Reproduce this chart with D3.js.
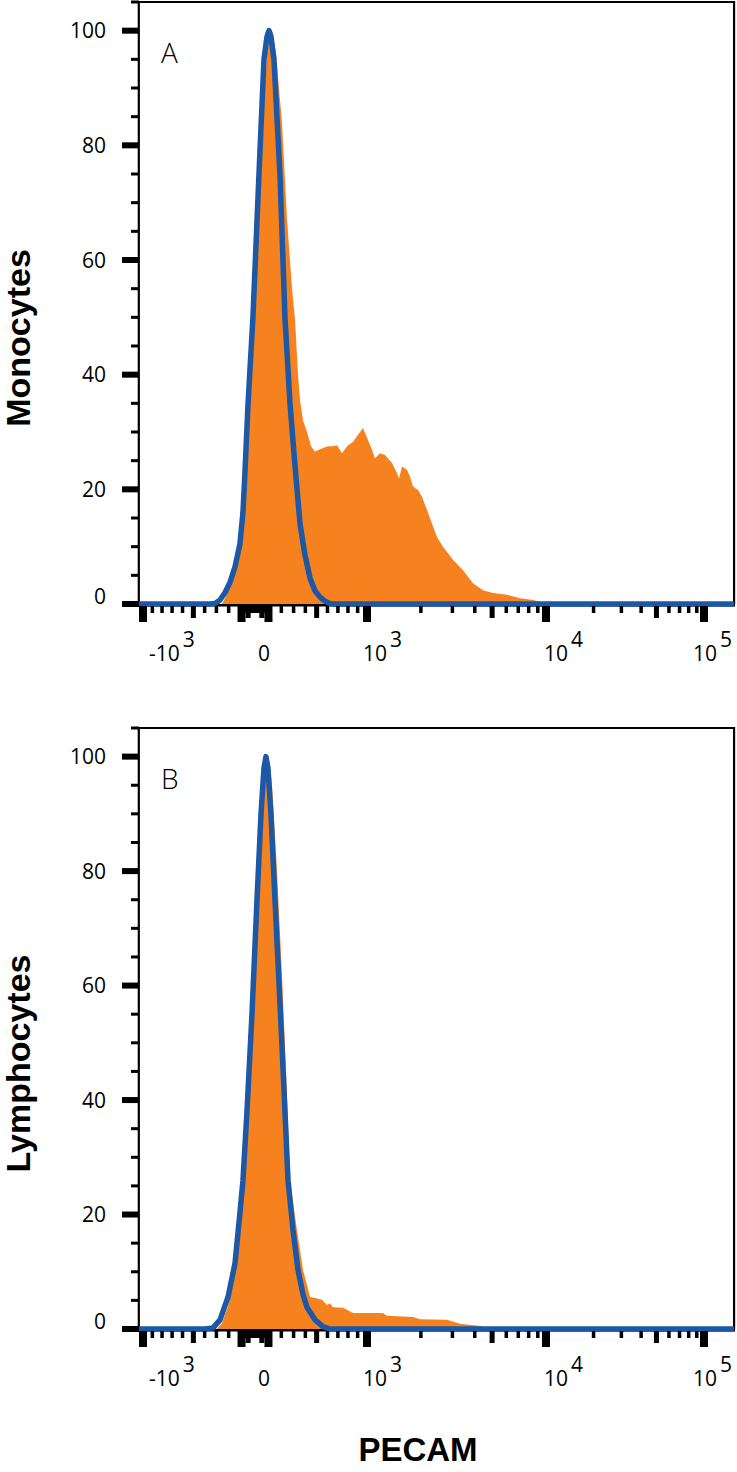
<!DOCTYPE html>
<html><head><meta charset="utf-8">
<script src="https://cdn.jsdelivr.net/npm/d3@7"></script>
<style>body{margin:0;background:#fff}svg{display:block}</style>
</head><body>
<svg id="chart" width="737" height="1472"></svg>
<script>
// ---------------- data ----------------
const panelLetters = ["A", "B"];
const yTitles = ["Monocytes", "Lymphocytes"];
const xTitle = "PECAM";
const yTickValues = [0, 20, 40, 60, 80, 100];
const xLabelValues = [-1000, 0, 1000, 10000, 100000];
const xLabelBases = ["-10", "0", "10", "10", "10"];
const xLabelSups = ["3", "", "3", "4", "5"];

// Monocytes – PECAM stained (orange, filled)
const monoStainedX = [-1090,-254,-229,-189,-150,-112,-74,-37,0,37,66,89,112,127,158,205,246,287,312,337,354,380,414,450,485,558,605,653,691,740,791,852,904,957,1066,1108,1182,1261,1379,1471,1510,1569,1673,1739,1807,1927,2029,2164,2338,2461,2658,3023,3438,3910,4447,5058,6056,7156,8461,9257,9872,155000];
const monoStainedY = [0,0,1,3,5.5,9,20,38,55,72,88,96,99.5,100,96,84,67,55,49.6,40,35.6,32,30,27.5,26.6,27.2,27.5,27.5,27.7,26.3,27.5,28.3,29.5,30.7,26.9,25.4,26.3,26.0,24.6,22.8,21.9,24.0,23.4,22.2,20.5,19.9,18.7,16.4,13.5,11.7,10.0,7.7,5.9,3.6,2.4,1.9,1.6,1.0,0.7,0.4,0,0];
// Monocytes – isotype control (blue outline)
const monoControlX = [-1090,-354,-312,-270,-229,-189,-150,-112,-89,-74,-51,-15,29,66,89,104,119,142,189,229,270,312,354,397,441,485,531,577,624,672,155000];
const monoControlY = [0,0,0.1,0.7,2.0,3.8,6.5,10.5,16,23,35,50,75,95,99,100,99,95,75,50,35,24,14,8.5,4.5,2.3,1.2,0.5,0.1,0,0];

// Lymphocytes – PECAM stained (orange, filled)
const lymphoStainedX = [-1090,-295,-254,-205,-150,-112,-74,-37,0,37,66,89,112,127,166,205,238,270,328,380,441,485,549,596,624,653,750,852,1000,1228,1293,1807,1978,2799,3308,4447,4682,155000];
const lymphoStainedY = [0,0,1,4,9.5,17,30,47,66,83,96,100,98,95,80,62,45,26,17.3,10.3,5.6,5.4,5.1,4.2,4.5,3.8,3.7,2.8,2.8,2.8,2.3,2.1,1.7,1.6,0.9,0.5,0,0];
// Lymphocytes – isotype control (blue outline)
const lymphoControlX = [-1090,-397,-328,-270,-205,-150,-112,-89,-59,-22,14.5,44,66,81,96,119,150,189,221,254,295,337,380,414,485,558,624,155000];
const lymphoControlY = [0,0,0.2,1.6,5.6,11.5,20.3,26,38,55,75,90,98,100,98,90,75,57,42,26,17.3,10.3,6,3.8,1.6,0.4,0,0];

// ---------------- layout ----------------
const svg = d3.select("#chart");
const ORANGE = "#f5821f", BLUE = "#1c58a6";
const FONT = "'Open Sans', 'Liberation Sans', sans-serif";
const xMin = -1090, xMax = 155000;

// biexponential-like display transform (linear-ish near zero, log decades beyond 10^3)
const C = 2000;
function T(v) {
  const a = Math.abs(v);
  if (a <= 1000) return Math.sign(v) * Math.log1p(a / C) / Math.log1p(1000 / C);
  return Math.sign(v) * (1 + Math.log10(a / 1000));
}
const xLin = d3.scaleLinear().domain([-1, 0, 1, 2, 3]).range([143, 255, 367, 546, 704]);
const X = v => xLin(T(v));

// tick sets
const majorTicks = [-1000, -100, 100, 1000, 10000, 100000];
const mediumTicks = [-500, -50, 50, 500, 5000, 50000];
const minorTicks = [];
[10, 100, 1000, 10000].forEach(d => {
  for (let m = 2; m <= 9; m++) if (m !== 5) {
    minorTicks.push(m * d);
    if (d <= 100) minorTicks.push(-m * d);
  }
});
for (let m = 1; m <= 9; m++) if (m !== 5) { minorTicks.push(m * 10); minorTicks.push(-m * 10); }

const panelDefs = [
  {y105: 2, y0: 604, sx: monoStainedX, sy: monoStainedY, cx: monoControlX, cy: monoControlY},
  {y105: 728, y0: 1329, sx: lymphoStainedX, sy: lymphoStainedY, cx: lymphoControlX, cy: lymphoControlY}
];

panelDefs.forEach((p, i) => {
  const y = d3.scaleLinear().domain([0, 105]).range([p.y0, p.y105]);
  const g = svg.append("g");
  const left = X(xMin), right = X(xMax);

  // stained histogram
  const stained = p.sx.map((v, k) => [v, p.sy[k]]);
  g.append("path").datum(stained)
    .attr("fill", ORANGE)
    .attr("d", d3.area().x(d => X(d[0])).y0(y(0)).y1(d => y(d[1])));

  // frame
  g.append("path")
    .attr("d", `M${left},${y(0)}V${p.y105}H${right}V${y(0)}`)
    .attr("fill", "none").attr("stroke", "#000").attr("stroke-width", 2.2);
  g.append("rect").attr("x", left - 1).attr("y", y(0)).attr("width", right - left + 2).attr("height", 2.5).attr("fill", "#000");

  // control histogram
  const control = p.cx.map((v, k) => [v, p.cy[k]]);
  g.append("path").datum(control)
    .attr("fill", "none").attr("stroke", BLUE).attr("stroke-width", 5.5)
    .attr("stroke-linejoin", "round")
    .attr("d", d3.line().x(d => X(d[0])).y(d => y(d[1])));

  // y ticks
  const yt = g.append("g");
  for (let v = 0; v <= 105; v += 5) {
    const major = v % 20 === 0;
    yt.append("rect")
      .attr("x", major ? 122 : 131).attr("width", major ? 17 : 8)
      .attr("y", y(v) - (major ? 3 : 1.5)).attr("height", major ? 6 : 3)
      .attr("fill", "#000");
  }
  yt.selectAll("text").data(yTickValues).join("text")
    .attr("x", 106).attr("y", d => y(d) - (d === 0 ? 8 : 0)).attr("dy", "0.36em")
    .attr("text-anchor", "end").attr("font-family", FONT).attr("font-size", 21)
    .text(d => d);

  // x ticks
  const xt = g.append("g").attr("transform", `translate(0,${y(0) + 2})`);
  const drawTicks = (vals, w, h) => xt.append("g").selectAll("rect").data(vals).join("rect")
    .attr("x", d => X(d) - w / 2).attr("width", w).attr("y", 0).attr("height", h).attr("fill", "#000");
  drawTicks(minorTicks, 3.5, 7);
  drawTicks(mediumTicks, 5, 12);
  drawTicks(majorTicks, 8, 16);

  // x labels
  const dxs = [6, 3, -4, -2, -11];
  const lab = g.append("g").attr("font-family", FONT).attr("font-size", 21);
  xLabelValues.forEach((v, k) => {
    const t = lab.append("text").attr("y", y(0) + 57);
    if (xLabelSups[k]) {
      t.attr("x", X(v) + dxs[k]).attr("text-anchor", "start");
      t.append("tspan").text(xLabelBases[k]);
      t.append("tspan").attr("dx", 3).attr("dy", -14).text(xLabelSups[k]);
    } else {
      t.attr("x", X(v) + 9).attr("text-anchor", "middle").text(xLabelBases[k]);
    }
  });

  // panel letter
  g.append("text").attr("x", 161).attr("y", p.y105 + 61)
    .attr("font-family", FONT).attr("font-size", 28).attr("font-weight", 300)
    .text(panelLetters[i]);

  // y title
  const cy = (y(0) + p.y105) / 2 + 35;
  g.append("text").attr("transform", `translate(30,${cy}) rotate(-90)`)
    .attr("text-anchor", "middle").attr("font-family", "'Liberation Sans', Arial, sans-serif")
    .attr("font-weight", "bold").attr("font-size", 34)
    .text(yTitles[i]);
});

svg.append("text").attr("x", 418).attr("y", 1461).attr("text-anchor", "middle")
  .attr("font-family", "'Liberation Sans', Arial, sans-serif").attr("font-weight", "bold").attr("font-size", 33)
  .text(xTitle);
</script>
</body></html>
